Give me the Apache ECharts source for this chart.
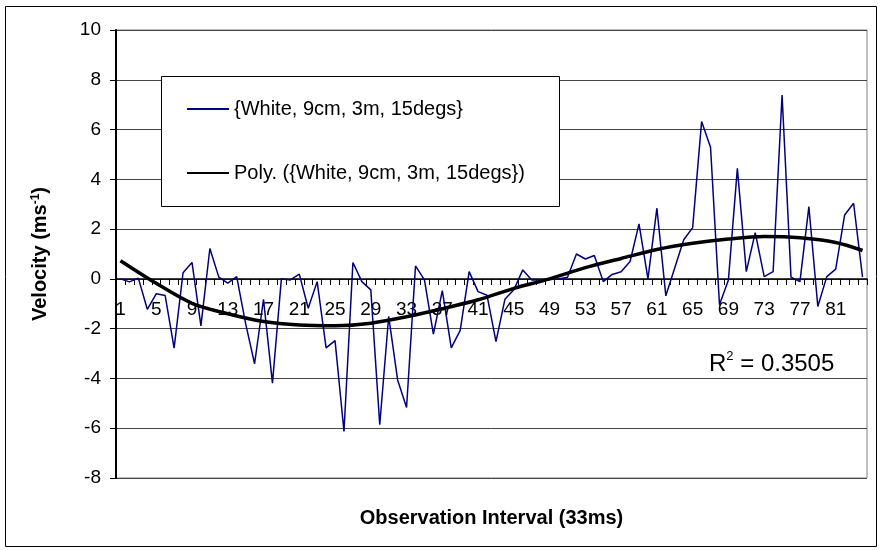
<!DOCTYPE html>
<html>
	<head>
		<meta charset="utf-8" />
		<title></title>
		<script src="https://cdn.jsdelivr.net/npm/echarts@6/dist/echarts.min.js"></script>
		<style>
			body { margin: 0; background: #fff; }
		</style>
	</head>
	<body>
		<div id="chart" style="width: 880px; height: 550px;"></div>
		<script>
		// observation intervals 1..84
		var intervals = [];
		for (var i = 1; i <= 84; i++) intervals.push(String(i));

		// velocity readings (ms-1)
		var velocity = [
			0.0, -0.12, 0.03, -1.22, -0.6, -0.67, -2.78, 0.25, 0.66, -1.89,
			1.22, 0.07, -0.17, 0.09, -1.8, -3.41, -0.82, -4.19, 0.01, -0.04,
			0.19, -1.18, -0.11, -2.77, -2.48, -6.13, 0.66, -0.11, -0.44, -5.86,
			-1.51, -4.06, -5.17, 0.52, -0.04, -2.22, -0.47, -2.77, -2.07, 0.29,
			-0.51, -0.66, -2.52, -0.82, -0.44, 0.36, -0.04, -0.04, -0.02, 0.0,
			0.07, 1.0, 0.8, 0.94, -0.11, 0.18, 0.29, 0.7, 2.21, 0.0,
			2.84, -0.68, 0.45, 1.57, 2.06, 6.32, 5.29, -1.04, -0.04, 4.44,
			0.29, 1.86, 0.09, 0.29, 7.39, 0.07, -0.11, 2.9, -1.11, 0.09,
			0.39, 2.57, 3.04, 0.07
		];

		// polynomial trend line
		var trendX = [1, 5, 9, 13, 17, 21, 25, 29, 33, 37, 41, 45, 49, 53, 57, 61, 65, 69, 73, 77, 81, 84];
		var trendY = [0.73, -0.18, -0.98, -1.4, -1.71, -1.85, -1.88, -1.78, -1.52, -1.2, -0.84, -0.38, 0.0, 0.45, 0.82, 1.18, 1.43, 1.6, 1.7, 1.65, 1.46, 1.14];

		var seriesName = '{White, 9cm, 3m, 15degs}';
		var trendName = 'Poly. ({White, 9cm, 3m, 15degs})';

		var trendData = trendX.map(function (x, k) { return [x, trendY[k]]; });

		var myChart = echarts.init(document.getElementById('chart'));
		var option = {
			animation: false,
			textStyle: { fontFamily: 'Liberation Sans, Arial, sans-serif' },
			grid: {
				left: 116, top: 30, right: 13, bottom: 72,
				outerBoundsMode: 'none',
				containLabel: false,
				show: true,
				borderColor: '#808080',
				borderWidth: 1
			},
			graphic: [
				{
					// outer chart border
					type: 'rect',
					shape: { x: 5.5, y: 6.5, width: 871, height: 540 },
					style: { fill: 'none', stroke: '#000', lineWidth: 1 },
					z: -1
				},
				{
					// legend box
					type: 'rect',
					shape: { x: 161.5, y: 76.5, width: 398, height: 130 },
					style: { fill: '#fff', stroke: '#000', lineWidth: 1 },
					z: 50
				},
				{
					type: 'text',
					left: 709,
					top: 350,
					style: {
						text: '{a|R}{s|2}{a| = 0.3505}',
						rich: {
							a: { fontSize: 24, lineHeight: 28, fill: '#000', fontFamily: 'Liberation Sans' },
							s: { fontSize: 13, lineHeight: 28, verticalAlign: 'top', fill: '#000', fontFamily: 'Liberation Sans' }
						}
					},
					z: 60
				}
			],
			legend: {
				orient: 'vertical',
				left: 186,
				top: 99,
				padding: 0,
				itemWidth: 42,
				itemHeight: 14,
				itemGap: 44,
				z: 60,
				itemStyle: { opacity: 0 },
				textStyle: { fontSize: 20, lineHeight: 20, color: '#000', fontFamily: 'Liberation Sans' },
				data: [seriesName, trendName]
			},
			xAxis: [
				{
					type: 'category',
					data: intervals,
					boundaryGap: true,
					// sit the axis on the zero line, labels with it
					offset: -199,
					name: 'Observation Interval (33ms)',
					nameLocation: 'middle',
					nameGap: 229,
					nameTextStyle: { fontSize: 20, fontWeight: 'bold', color: '#000', fontFamily: 'Liberation Sans' },
					axisLine: { onZero: false, lineStyle: { color: '#000', width: 1.5 } },
					axisTick: { show: true, interval: 0, length: 6, lineStyle: { color: '#000' } },
					axisLabel: { interval: 3, margin: 21, fontSize: 19, color: '#000' },
					splitLine: { show: false }
				},
				{
					type: 'value',
					min: 0.5,
					max: 84.5,
					show: false
				}
			],
			yAxis: {
				type: 'value',
				min: -8,
				max: 10,
				interval: 2,
				name: 'Velocity (ms{sup|-1})',
				nameLocation: 'middle',
				nameGap: 66,
				nameTextStyle: {
					fontSize: 20, fontWeight: 'bold', color: '#000', fontFamily: 'Liberation Sans',
					rich: {
						sup: { fontSize: 12, fontWeight: 'bold', verticalAlign: 'top', color: '#000' }
					}
				},
				axisLine: { show: true, lineStyle: { color: '#000', width: 2 } },
				axisTick: { show: true, length: 6, inside: false, lineStyle: { color: '#000' } },
				axisLabel: { fontSize: 19, color: '#000', margin: 15 },
				splitLine: { show: true, lineStyle: { color: '#444', width: 1 } }
			},
			series: [
				{
					name: seriesName,
					type: 'line',
					data: velocity,
					symbol: 'none',
					lineStyle: { color: '#000080', width: 1.5 },
					itemStyle: { color: '#000080' },
					z: 3
				},
				{
					name: trendName,
					type: 'line',
					xAxisIndex: 1,
					data: trendData,
					smooth: 0.3,
					symbol: 'none',
					lineStyle: { color: '#000', width: 3.5 },
					itemStyle: { color: '#000' },
					z: 4
				}
			]
		};
		myChart.setOption(option);
		</script>
	</body>
</html>
